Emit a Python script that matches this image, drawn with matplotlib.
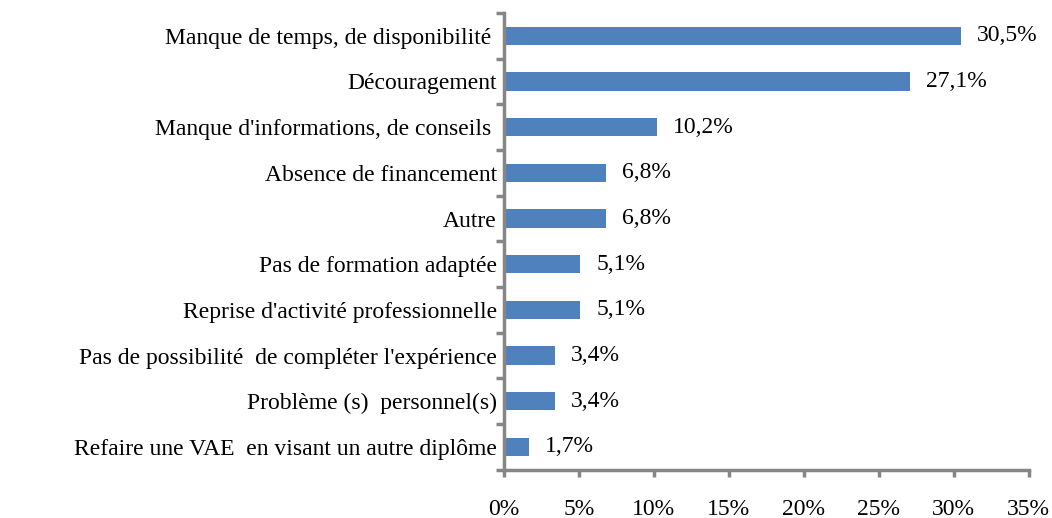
import matplotlib.pyplot as plt
import numpy as np
from matplotlib.ticker import FixedLocator, NullFormatter

plt.rcParams['font.family'] = ['Liberation Serif', 'DejaVu Serif']

categories = [
    "Manque de temps, de disponibilité ",
    "Découragement",
    "Manque d'informations, de conseils ",
    "Absence de financement",
    "Autre",
    "Pas de formation adaptée",
    "Reprise d'activité professionnelle",
    "Pas de possibilité  de compléter l'expérience",
    "Problème (s)  personnel(s)",
    "Refaire une VAE  en visant un autre diplôme",
]
values = [30.5, 27.1, 10.2, 6.8, 6.8, 5.1, 5.1, 3.4, 3.4, 1.7]
xticks = [0, 5, 10, 15, 20, 25, 30, 35]

fig = plt.figure(figsize=(10.52, 5.18), dpi=100)
ax = fig.add_axes([0.479, 0.093, 0.499, 0.882])

y = np.arange(len(categories))[::-1]
ax.barh(y, values, height=0.4, color='#4F81BD')

for yi, v in zip(y, values):
    ax.text(v + 1.05, yi, f"{v:.1f}%".replace('.', ','), va='center', ha='left', fontsize=17)

ax.set_xlim(0, 35)
ax.set_ylim(-0.5, len(categories) - 0.5)
ax.set_xticks(xticks)
ax.set_xticklabels([f"{t}%" for t in xticks], fontsize=17)

# category boundaries as major ticks, labels on minor ticks
ax.yaxis.set_major_locator(FixedLocator(np.arange(-0.5, len(categories), 1.0)))
ax.yaxis.set_major_formatter(NullFormatter())
ax.yaxis.set_minor_locator(FixedLocator(y))
ax.set_yticklabels(categories, minor=True, fontsize=17)
ax.tick_params(axis='y', which='minor', length=0, pad=5)
ax.tick_params(axis='y', which='major', length=6, width=2.5, color='#868686', direction='out')
ax.tick_params(axis='x', length=5, width=2.5, color='#868686', direction='out', pad=16)

for side in ['top', 'right']:
    ax.spines[side].set_visible(False)
for side in ['left', 'bottom']:
    ax.spines[side].set_color('#868686')
    ax.spines[side].set_linewidth(2.5)

fig.savefig('out.png', dpi=100)
